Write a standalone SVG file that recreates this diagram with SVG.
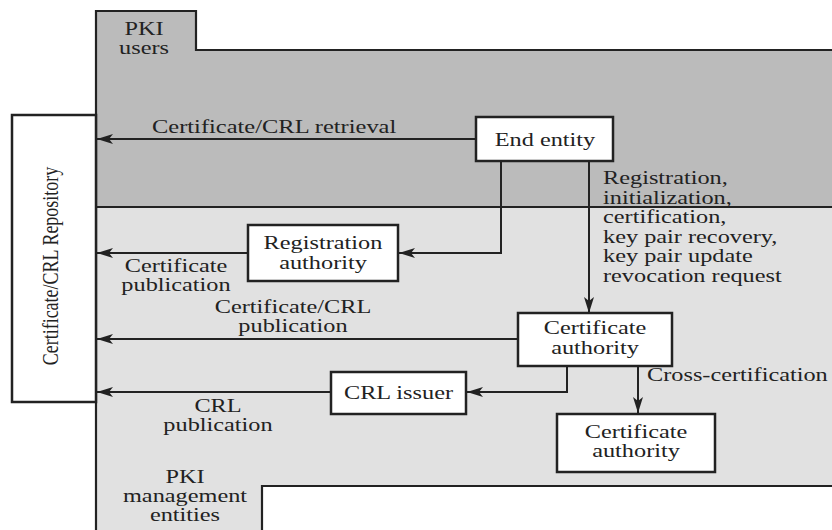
<svg xmlns="http://www.w3.org/2000/svg" width="832" height="530" viewBox="0 0 832 530">
<style>
.t{font-family:"Liberation Serif","Times New Roman",serif;font-size:18px;fill:#222}
.m{text-anchor:middle}
.box{fill:#fff;stroke:#222;stroke-width:2.5}
.edge{fill:none;stroke:#222;stroke-width:2}
.bd{fill:none;stroke:#222;stroke-width:2.2}
</style>
<defs>
<marker id="ah" markerUnits="userSpaceOnUse" markerWidth="18" markerHeight="12" refX="16" refY="0" viewBox="0 -6 18 12" orient="auto">
<path d="M0,-5 L16,0 L0,5 L4,0 Z" fill="#222"/>
</marker>
</defs>
<g id="background">
<path d="M96,11 H196 V50 H832 V207 H96 Z" fill="#bbbbbb"/>
<path d="M96,207 H832 V486 H262 V530 H96 Z" fill="#e1e1e1"/>
<path class="bd" d="M96,530 V11 H196 V50 H832"/>
<path class="bd" d="M96,207 H832"/>
<path class="bd" d="M262,530 V486 H832"/>
<text class="t m" transform="translate(144 35) scale(1.35 1)"><tspan x="0" y="0">PKI</tspan><tspan x="0" y="19">users</tspan></text>
<text class="t m" transform="translate(185 483) scale(1.35 1)"><tspan x="0" y="0">PKI</tspan><tspan x="0" y="19">management</tspan><tspan x="0" y="38">entities</tspan></text>
</g>
<g id="repository">
<rect class="box" x="12" y="115" width="84" height="287" stroke-width="2.2"/>
<text class="t m" font-size="17" transform="translate(58 266) scale(1.3 1) rotate(-90)" x="0" y="0">Certificate/CRL Repository</text>
</g>
<g id="connectors">
<path class="edge" d="M476,139 H97" marker-end="url(#ah)"/>
<path class="edge" d="M501,161 V253 H399" marker-end="url(#ah)"/>
<path class="edge" d="M248,253 H97" marker-end="url(#ah)"/>
<path class="edge" d="M589,161 V313" marker-end="url(#ah)"/>
<path class="edge" d="M518,339 H97" marker-end="url(#ah)"/>
<path class="edge" d="M567,366 V392 H467" marker-end="url(#ah)"/>
<path class="edge" d="M331,392 H97" marker-end="url(#ah)"/>
<path class="edge" d="M638,366 V413" marker-end="url(#ah)"/>
<text class="t" transform="translate(152 133) scale(1.36 1)" x="0" y="0">Certificate/CRL retrieval</text>
<text class="t" transform="translate(603 184) scale(1.35 1)"><tspan x="0" y="0">Registration,</tspan><tspan x="0" y="19.6">initialization,</tspan><tspan x="0" y="39.2">certification,</tspan><tspan x="0" y="58.8">key pair recovery,</tspan><tspan x="0" y="78.4">key pair update</tspan><tspan x="0" y="98">revocation request</tspan></text>
<text class="t m" transform="translate(176 272) scale(1.35 1)"><tspan x="0" y="0">Certificate</tspan><tspan x="0" y="19">publication</tspan></text>
<text class="t m" transform="translate(293 313) scale(1.35 1)"><tspan x="0" y="0">Certificate/CRL</tspan><tspan x="0" y="19">publication</tspan></text>
<text class="t m" transform="translate(218 412) scale(1.35 1)"><tspan x="0" y="0">CRL</tspan><tspan x="0" y="19">publication</tspan></text>
<text class="t" transform="translate(647 381) scale(1.35 1)" x="0" y="0">Cross-certification</text>
</g>
<g id="end-entity">
<rect class="box" x="476" y="117" width="137" height="44"/>
<text class="t m" transform="translate(545 146) scale(1.35 1)" x="0" y="0">End entity</text>
</g>
<g id="registration-authority">
<rect class="box" x="248" y="225" width="150" height="56"/>
<text class="t m" transform="translate(323 249) scale(1.35 1)"><tspan x="0" y="0">Registration</tspan><tspan x="0" y="20">authority</tspan></text>
</g>
<g id="certificate-authority">
<rect class="box" x="518" y="313" width="154" height="53"/>
<text class="t m" transform="translate(595 334) scale(1.35 1)"><tspan x="0" y="0">Certificate</tspan><tspan x="0" y="20">authority</tspan></text>
</g>
<g id="crl-issuer">
<rect class="box" x="331" y="372" width="135" height="42"/>
<text class="t m" transform="translate(398.5 399) scale(1.35 1)" x="0" y="0">CRL issuer</text>
</g>
<g id="certificate-authority-2">
<rect class="box" x="557" y="414" width="158" height="58"/>
<text class="t m" transform="translate(636 438) scale(1.35 1)"><tspan x="0" y="0">Certificate</tspan><tspan x="0" y="19">authority</tspan></text>
</g>
</svg>
